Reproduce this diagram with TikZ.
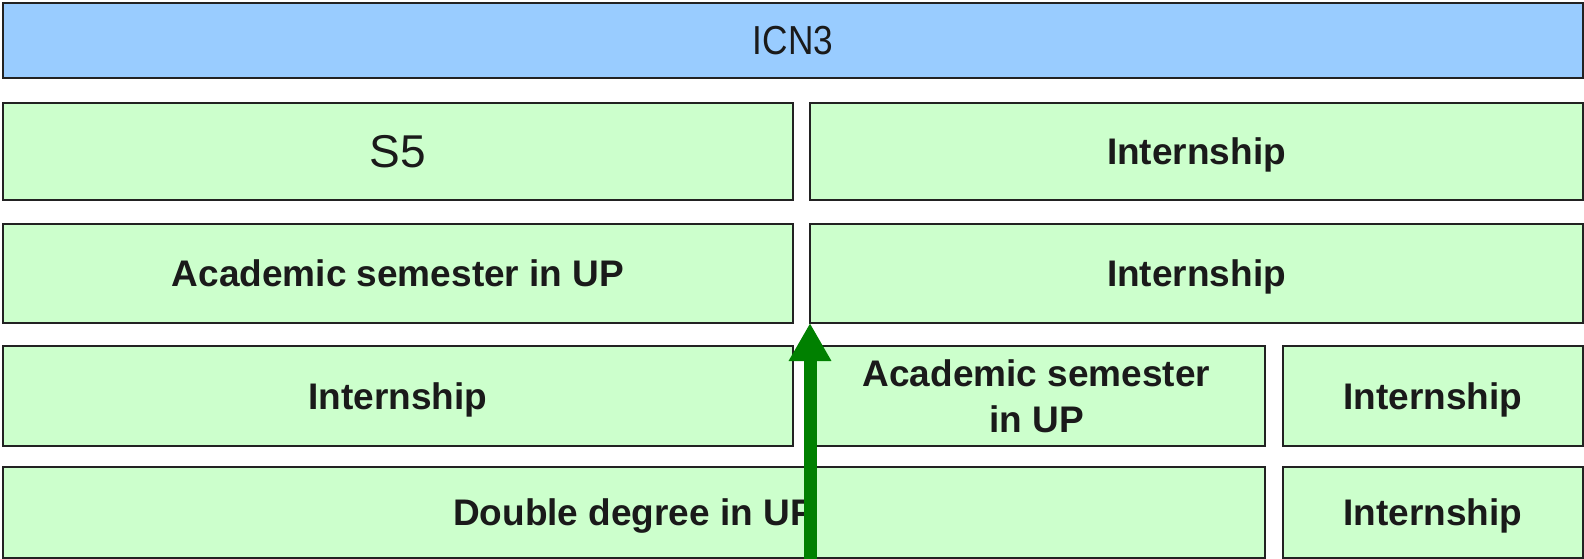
\documentclass[tikz,border=0pt]{standalone}
\usepackage{fontspec}
\setmainfont{Liberation Sans}
\usetikzlibrary{arrows.meta}
\definecolor{boxblue}{HTML}{99CCFF}
\definecolor{boxgreen}{HTML}{CCFFCC}
\definecolor{arrowgreen}{HTML}{008000}
\definecolor{edgegray}{HTML}{222222}
\definecolor{txt}{HTML}{1A1A1A}
\begin{document}
\begin{tikzpicture}[x=1pt,y=-1pt,
  box/.style={draw=edgegray, line width=1.6pt, fill=boxgreen, anchor=north west,
    inner sep=0pt, outer sep=0pt, text=txt, align=center, text depth=0pt,
    font=\fontsize{37}{45.7}\selectfont\bfseries},
  plain/.style={font=\fontsize{46}{50}\selectfont},
  flow/.style={draw=arrowgreen, line width=13pt, -{Triangle[length=38pt,width=40pt]}}
]
\useasboundingbox (0,0) rectangle (1584,559);
% top bar
\node[box, fill=boxblue, minimum width=1580pt, minimum height=75pt,
  font=\fontsize{40.5}{46}\selectfont] (icn) at (3,3) {\scalebox{0.87}[1]{ICN3}};
% row 1
\node[box, minimum width=790pt, minimum height=97pt, plain] (s5) at (3,103) {S5};
\node[box, minimum width=773pt, minimum height=97pt] (r1b) at (810,103) {Internship};
% row 2
\node[box, minimum width=790pt, minimum height=99pt] (r2a) at (3,224) {Academic semester in UP};
\node[box, minimum width=773pt, minimum height=99pt] (r2b) at (810,224) {Internship};
% row 3
\node[box, minimum width=790pt, minimum height=100pt] (r3a) at (3,346) {Internship};
\node[box, minimum width=457pt, minimum height=100pt] (r3b) at (808,346) {Academic semester\\in UP};
\node[box, minimum width=300pt, minimum height=100pt] (r3c) at (1283,346) {Internship};
% row 4
\node[box, minimum width=1262pt, minimum height=91pt] (r4a) at (3,467) {Double degree in UP};
\node[box, minimum width=300pt, minimum height=91pt] (r4b) at (1283,467) {Internship};
% arrow
\coordinate (start) at (810,570);
\draw[flow] (start) -- (r2b.south west);
\end{tikzpicture}
\end{document}
